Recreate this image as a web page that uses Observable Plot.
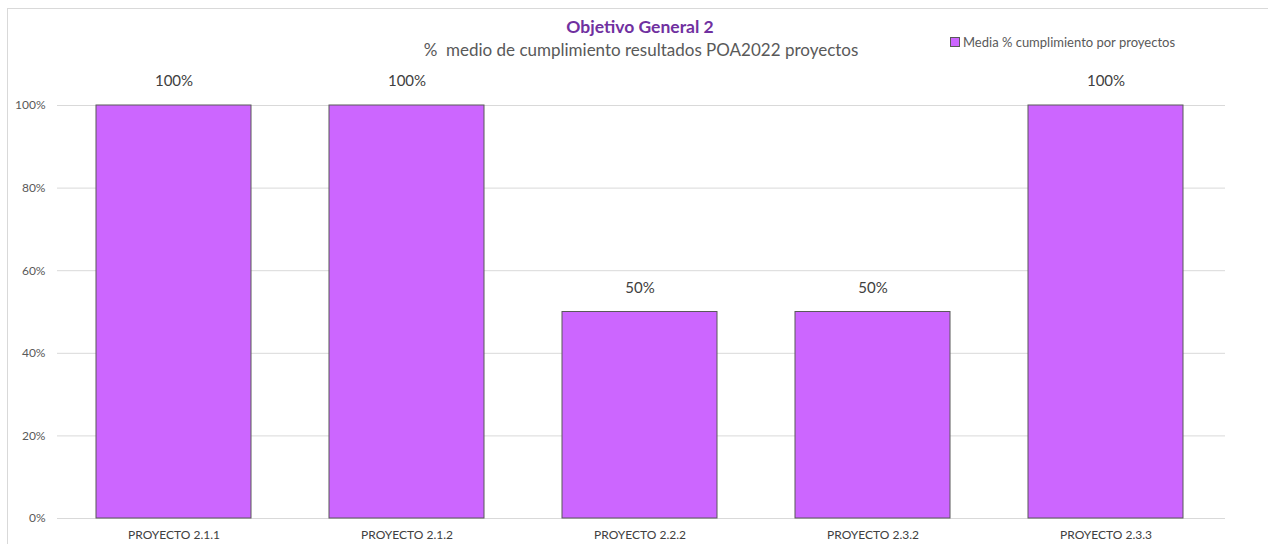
<!DOCTYPE html>
<html>
<head>
<meta charset="utf-8">
<script src="https://cdn.jsdelivr.net/npm/d3@7"></script>
<script src="https://cdn.jsdelivr.net/npm/@observablehq/plot@0.6"></script>
<style>
  html, body { margin: 0; padding: 0; background: #fff; }
  #wrap { position: relative; width: 1268px; height: 544px; overflow: hidden; font-family: Lato, "Open Sans", sans-serif; }
  #frame { position: absolute; left: 7px; top: 8px; width: 1300px; height: 600px; border-left: 1px solid #d9d9d9; border-top: 1px solid #d9d9d9; box-sizing: border-box; }
  #title { position: absolute; left: 0; width: 1280px; top: 16px; text-align: center; color: #7030A0; font-weight: bold; font-size: 17.5px; }
  #subtitle { position: absolute; left: 0; width: 1282px; top: 39px; text-align: center; color: #595959; font-size: 17px; }
  #legend { position: absolute; left: 950px; top: 34px; color: #595959; font-size: 13px; display: flex; align-items: center; }
  #legend span.sw { display: inline-block; width: 8px; height: 8px; background: #CC66FF; border: 1px solid #595959; margin-right: 3px; }
  #chart { position: absolute; left: 0; top: 0; }
</style>
</head>
<body>
<div id="wrap">
  <div id="frame"></div>
  <div id="chart"></div>
  <div id="title">Objetivo General 2</div>
  <div id="subtitle">%&nbsp; medio de cumplimiento resultados POA2022 proyectos</div>
  <div id="legend"><span class="sw"></span>Media % cumplimiento por proyectos</div>
</div>
<script>
const proyectos = ["PROYECTO 2.1.1", "PROYECTO 2.1.2", "PROYECTO 2.2.2", "PROYECTO 2.3.2", "PROYECTO 2.3.3"];
const cumplimiento = [1.0, 1.0, 0.5, 0.5, 1.0];
const yTicks = [0, 0.2, 0.4, 0.6, 0.8, 1.0];

const data = proyectos.map((p, i) => ({proyecto: p, valor: cumplimiento[i]}));
const pct = d3.format(".0%");

const chart = Plot.plot({
  width: 1268,
  height: 544,
  marginTop: 105,
  marginBottom: 26,
  marginLeft: 57,
  marginRight: 43,
  style: {fontFamily: "Lato, 'Open Sans', sans-serif", background: "transparent"},
  x: {domain: proyectos, paddingInner: 0.335, paddingOuter: 0.1675, align: 0.485, label: null, tickSize: 0, tickPadding: 12},
  y: {domain: [0, 1], ticks: yTicks, tickFormat: pct, label: null, tickSize: 0, tickPadding: 12},
  marks: [
    Plot.gridY(yTicks, {stroke: "#d9d9d9", strokeOpacity: 1, strokeWidth: 1}),
    Plot.barY(data, {x: "proyecto", y: "valor", fill: "#CC66FF", stroke: "#595959", strokeWidth: 1}),
    Plot.text(data, {x: "proyecto", y: "valor", text: d => pct(d.valor), dy: -24, fill: "#404040", fontSize: 15}),
    Plot.axisY(yTicks, {tickFormat: pct, tickSize: 0, tickPadding: 12, fontSize: 12, color: "#595959", label: null}),
    Plot.axisX({tickSize: 0, tickPadding: 12, fontSize: 12, color: "#404040", label: null})
  ]
});
document.getElementById("chart").appendChild(chart);
</script>
</body>
</html>
